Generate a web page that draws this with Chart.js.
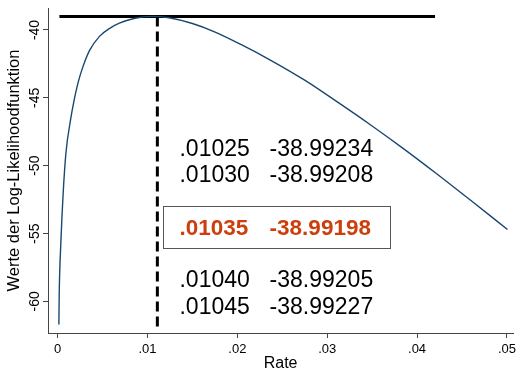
<!DOCTYPE html>
<html>
<head>
<meta charset="utf-8">
<script src="https://cdn.jsdelivr.net/npm/chart.js@4.4.1/dist/chart.umd.min.js"></script>
<style>
  html, body { margin: 0; padding: 0; background: #fff; }
  #wrap { width: 520px; height: 373px; }
</style>
</head>
<body>
<div id="wrap"><canvas id="llChart"></canvas></div>
<script>
// log-likelihood curve
const rates = [0.00014, 0.00018, 0.00036, 0.00062, 0.00092, 0.00147, 0.0018, 0.00227, 0.00282,
  0.00356, 0.00466, 0.0058, 0.00687, 0.0085, 0.0105, 0.01238, 0.015, 0.01753, 0.0205,
  0.02377, 0.02745, 0.03112, 0.0348, 0.03848, 0.04215, 0.04582, 0.05006];
const loglik = [-61.7, -59.4, -55.7, -52.0, -49.1, -46.5, -45.3, -43.9, -42.7,
  -41.5, -40.47, -39.88, -39.5, -39.15, -39.0, -39.1, -39.52, -40.15, -41.1,
  -42.25, -43.68, -45.3, -46.98, -48.74, -50.58, -52.47, -54.7];

const maxLine = { from: 0.0002, to: 0.042, value: -39.0 };
const maxRate = 0.0111;

const xTicks = [0, 0.01, 0.02, 0.03, 0.04, 0.05];
const xTickLabels = ["0", ".01", ".02", ".03", ".04", ".05"];
const yTicks = [-60, -55, -50, -45, -40];
const yTickLabels = ["-60", "-55", "-50", "-45", "-40"];

const tableRates = [".01025", ".01030", ".01035", ".01040", ".01045"];
const tableValues = ["-38.99234", "-38.99208", "-38.99198", "-38.99205", "-38.99227"];
const highlightRow = 2;

const axisColor = "#444";
const fontFamily = "'Liberation Sans', Arial, sans-serif";

const ctx = document.getElementById("llChart");

// y tick labels rotated, plus the table of values
const annotations = {
  id: "annotations",
  afterDraw(chart) {
    const c = chart.ctx;
    const x = chart.scales.x;
    const y = chart.scales.y;

    c.save();
    c.fillStyle = "#000";
    c.font = "14px " + fontFamily;
    c.textAlign = "center";
    c.textBaseline = "middle";
    yTicks.forEach((v, i) => {
      c.save();
      c.translate(35, y.getPixelForValue(v));
      c.rotate(-Math.PI / 2);
      c.fillText(yTickLabels[i], 0, 0);
      c.restore();
    });
    c.restore();

    const col1 = x.getPixelForValue(0.01356);
    const col2 = x.getPixelForValue(0.02359);
    const rowY = [-49.31, -51.23, -55.08, -58.94, -60.91];

    c.save();
    c.textAlign = "left";
    c.textBaseline = "alphabetic";
    tableRates.forEach((r, i) => {
      const py = y.getPixelForValue(rowY[i]);
      if (i === highlightRow) {
        c.font = "bold 22.5px " + fontFamily;
        c.fillStyle = "#cc3f0c";
      } else {
        c.font = "23px " + fontFamily;
        c.fillStyle = "#000";
      }
      c.fillText(r, col1, py);
      c.fillText(tableValues[i], col2, py);
    });

    // box around the best row
    const bx1 = x.getPixelForValue(0.01172);
    const bx2 = x.getPixelForValue(0.03693);
    const by1 = y.getPixelForValue(-53.0);
    const by2 = y.getPixelForValue(-56.07);
    c.strokeStyle = "#555";
    c.lineWidth = 1;
    c.strokeRect(Math.round(bx1) + 0.5, Math.round(by1) + 0.5, Math.round(bx2 - bx1), Math.round(by2 - by1));
    c.restore();
  }
};

new Chart(ctx, {
  type: "line",
  data: {
    datasets: [
      {
        label: "Log-Likelihood",
        data: rates.map((r, i) => ({ x: r, y: loglik[i] })),
        borderColor: "#1a476f",
        borderWidth: 1.4,
        pointRadius: 0,
        cubicInterpolationMode: "monotone"
      },
      {
        label: "Maximum",
        data: [{ x: maxLine.from, y: maxLine.value }, { x: maxLine.to, y: maxLine.value }],
        borderColor: "#000",
        borderWidth: 3,
        pointRadius: 0
      },
      {
        label: "Rate",
        data: [{ x: maxRate, y: maxLine.value }, { x: maxRate, y: -61.9 }],
        borderColor: "#000",
        borderWidth: 3,
        borderDash: [10, 5],
        pointRadius: 0
      }
    ]
  },
  options: {
    responsive: true,
    maintainAspectRatio: false,
    animation: false,
    layout: { padding: { top: 8, right: 3, left: 0, bottom: 0 } },
    plugins: {
      legend: { display: false },
      tooltip: { enabled: false }
    },
    scales: {
      x: {
        type: "linear",
        min: -0.00107,
        max: 0.0507,
        afterBuildTicks: s => { s.ticks = xTicks.map(v => ({ value: v })); },
        afterFit: s => { s.height = 40; },
        grid: { drawOnChartArea: false, drawTicks: true, tickLength: 5, color: axisColor },
        border: { color: axisColor, width: 1 },
        ticks: {
          color: "#000",
          font: { family: fontFamily, size: 13 },
          padding: 4,
          maxRotation: 0,
          callback: (v, i) => xTickLabels[i]
        },
        title: {
          display: true,
          text: "Rate",
          color: "#000",
          font: { family: fontFamily, size: 16 },
          padding: { top: 0, bottom: 0 }
        }
      },
      y: {
        type: "linear",
        min: -62.33,
        max: -38.38,
        afterBuildTicks: s => { s.ticks = yTicks.map(v => ({ value: v })); },
        afterFit: s => { s.width = 48; },
        grid: { drawOnChartArea: false, drawTicks: true, tickLength: 5, color: axisColor },
        border: { color: axisColor, width: 1 },
        ticks: { display: false },
        title: {
          display: true,
          text: "Werte der Log-Likelihoodfunktion",
          color: "#000",
          font: { family: fontFamily, size: 16.5 },
          padding: { top: 5, bottom: 0 }
        }
      }
    }
  },
  plugins: [annotations]
});
</script>
</body>
</html>
